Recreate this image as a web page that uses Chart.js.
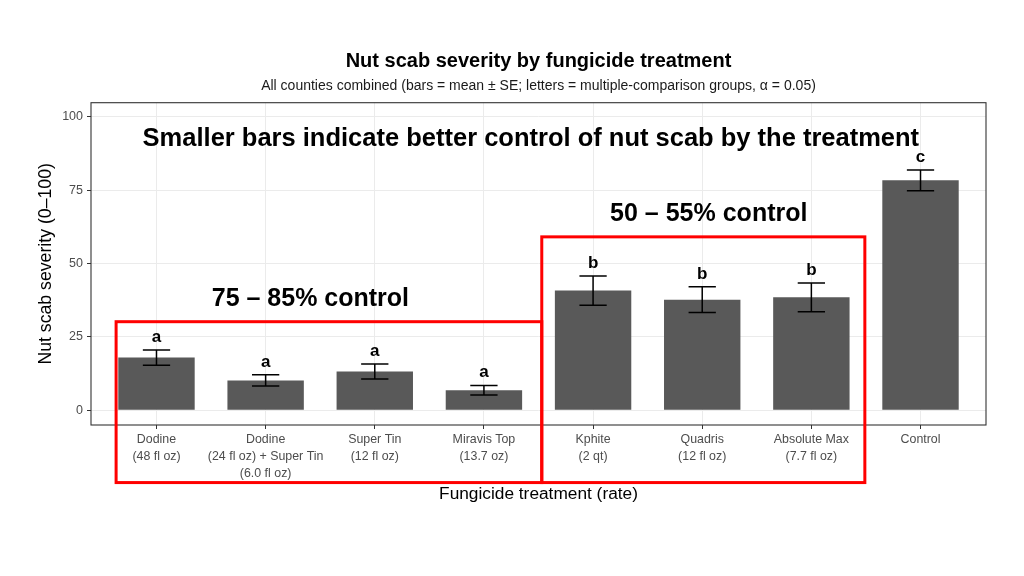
<!DOCTYPE html>
<html>
<head>
<meta charset="utf-8">
<script src="https://cdn.jsdelivr.net/npm/chart.js@4.4.1/dist/chart.umd.min.js"></script>
<style>
html,body{margin:0;padding:0;background:#fff;}
#wrap{width:1024px;height:576px;}
</style>
</head>
<body>
<div id="wrap"><canvas id="c" width="1024" height="576"></canvas></div>
<script>
// ---- data ----
const categories = [
  ["Dodine","(48 fl oz)"],
  ["Dodine","(24 fl oz) + Super Tin","(6.0 fl oz)"],
  ["Super Tin","(12 fl oz)"],
  ["Miravis Top","(13.7 oz)"],
  ["Kphite","(2 qt)"],
  ["Quadris","(12 fl oz)"],
  ["Absolute Max","(7.7 fl oz)"],
  ["Control"]
];
const means = [18.0, 10.2, 13.25, 6.85, 40.8, 37.7, 38.5, 78.35];
const se = [2.6, 1.9, 2.55, 1.65, 5.0, 4.4, 4.9, 3.55];
const letters = ["a","a","a","a","b","b","b","c"];
const yTicks = [0, 25, 50, 75, 100];

const FONT = "'Liberation Sans', Arial, sans-serif";

const overlay = {
  id: 'overlay',
  afterDraw(chart) {
    const {ctx, chartArea: a, scales: {x, y}} = chart;
    const midX = (a.left + a.right) / 2;
    ctx.save();
    ctx.textAlign = 'center';
    ctx.textBaseline = 'middle';
    // titles
    ctx.fillStyle = '#000';
    ctx.font = "bold 20px " + FONT;
    ctx.fillText("Nut scab severity by fungicide treatment", midX, 61);
    ctx.fillStyle = '#1a1a1a';
    ctx.font = "14px " + FONT;
    ctx.fillText("All counties combined (bars = mean \u00b1 SE; letters = multiple-comparison groups, \u03b1 = 0.05)", midX, 86);
    // error bars
    ctx.strokeStyle = '#000';
    ctx.lineWidth = 1.5;
    means.forEach((m, i) => {
      const cx = x.getPixelForValue(i + 1);
      const l = x.getPixelForValue(i + 1 - 0.125);
      const r = x.getPixelForValue(i + 1 + 0.125);
      const yt = y.getPixelForValue(m + se[i]);
      const yb = y.getPixelForValue(m - se[i]);
      ctx.beginPath();
      ctx.moveTo(cx, yt); ctx.lineTo(cx, yb);
      ctx.moveTo(l, yt); ctx.lineTo(r, yt);
      ctx.moveTo(l, yb); ctx.lineTo(r, yb);
      ctx.stroke();
    });
    // letters
    ctx.fillStyle = '#000';
    ctx.font = "bold 17px " + FONT;
    means.forEach((m, i) => {
      ctx.fillText(letters[i], x.getPixelForValue(i + 1), y.getPixelForValue(m + se[i] + 4.3));
    });
    // panel border
    ctx.strokeStyle = '#333333';
    ctx.lineWidth = 1.1;
    ctx.strokeRect(a.left, a.top, a.right - a.left, a.bottom - a.top);
    // axis titles
    ctx.fillStyle = '#000';
    ctx.font = "17.3px " + FONT;
    ctx.fillText("Fungicide treatment (rate)", midX, 494);
    ctx.save();
    ctx.translate(46.5, (a.top + a.bottom) / 2);
    ctx.rotate(-Math.PI / 2);
    ctx.font = "17.7px " + FONT;
    ctx.fillText("Nut scab severity (0\u2013100)", 0, 0);
    ctx.restore();
    // annotations
    ctx.font = "bold 25.5px " + FONT;
    ctx.fillText("Smaller bars indicate better control of nut scab by the treatment",
      x.getPixelForValue(4.43), y.getPixelForValue(92.4));
    ctx.font = "bold 25px " + FONT;
    ctx.fillText("75 \u2013 85% control", x.getPixelForValue(2.41), y.getPixelForValue(38.0));
    ctx.fillText("50 \u2013 55% control", x.getPixelForValue(6.06), y.getPixelForValue(66.9));
    // red boxes
    ctx.strokeStyle = '#ff0000';
    ctx.lineWidth = 3;
    const box = (x0, x1, y0, y1) => {
      const px0 = x.getPixelForValue(x0), px1 = x.getPixelForValue(x1);
      const py0 = y.getPixelForValue(y0), py1 = y.getPixelForValue(y1);
      ctx.strokeRect(px0, py1, px1 - px0, py0 - py1);
    };
    box(0.63, 4.53, -24.6, 30.2);
    box(4.53, 7.49, -24.6, 59.1);
    ctx.restore();
  }
};

new Chart(document.getElementById('c'), {
  type: 'bar',
  data: {
    datasets: [{
      data: means.map((m, i) => ({x: i + 1, y: m})),
      backgroundColor: '#595959',
      borderWidth: 0,
      barPercentage: 0.7,
      categoryPercentage: 1.0
    }]
  },
  options: {
    responsive: false,
    animation: false,
    devicePixelRatio: 1,
    layout: {padding: {left: 0, right: 38, top: 102.7, bottom: 0}},
    plugins: {
      legend: {display: false},
      tooltip: {enabled: false},
      title: {display: false},
      subtitle: {display: false}
    },
    scales: {
      x: {
        type: 'linear',
        offset: false,
        min: 0.4,
        max: 8.6,
        afterBuildTicks: s => { s.ticks = categories.map((c, i) => ({value: i + 1})); },
        afterFit: s => { s.height = 151; },
        grid: {offset: false, color: '#ebebeb', lineWidth: 1, tickColor: '#333333', tickLength: 4, drawTicks: true},
        border: {display: false},
        ticks: {
          autoSkip: false, maxRotation: 0, minRotation: 0, padding: 2,
          color: '#4d4d4d',
          font: {family: FONT, size: 12.4, lineHeight: 1.37},
          callback: v => categories[Math.round(v) - 1]
        }
      },
      y: {
        min: -4.99,
        max: 104.8,
        afterBuildTicks: s => { s.ticks = yTicks.map(v => ({value: v})); },
        afterFit: s => { s.width = 91; },
        grid: {color: '#ebebeb', lineWidth: 1, tickColor: '#333333', tickLength: 4, drawTicks: true},
        border: {display: false},
        ticks: {
          padding: 4,
          color: '#4d4d4d',
          font: {family: FONT, size: 12.5},
          callback: v => String(v)
        }
      }
    }
  },
  plugins: [overlay]
});
</script>
</body>
</html>
